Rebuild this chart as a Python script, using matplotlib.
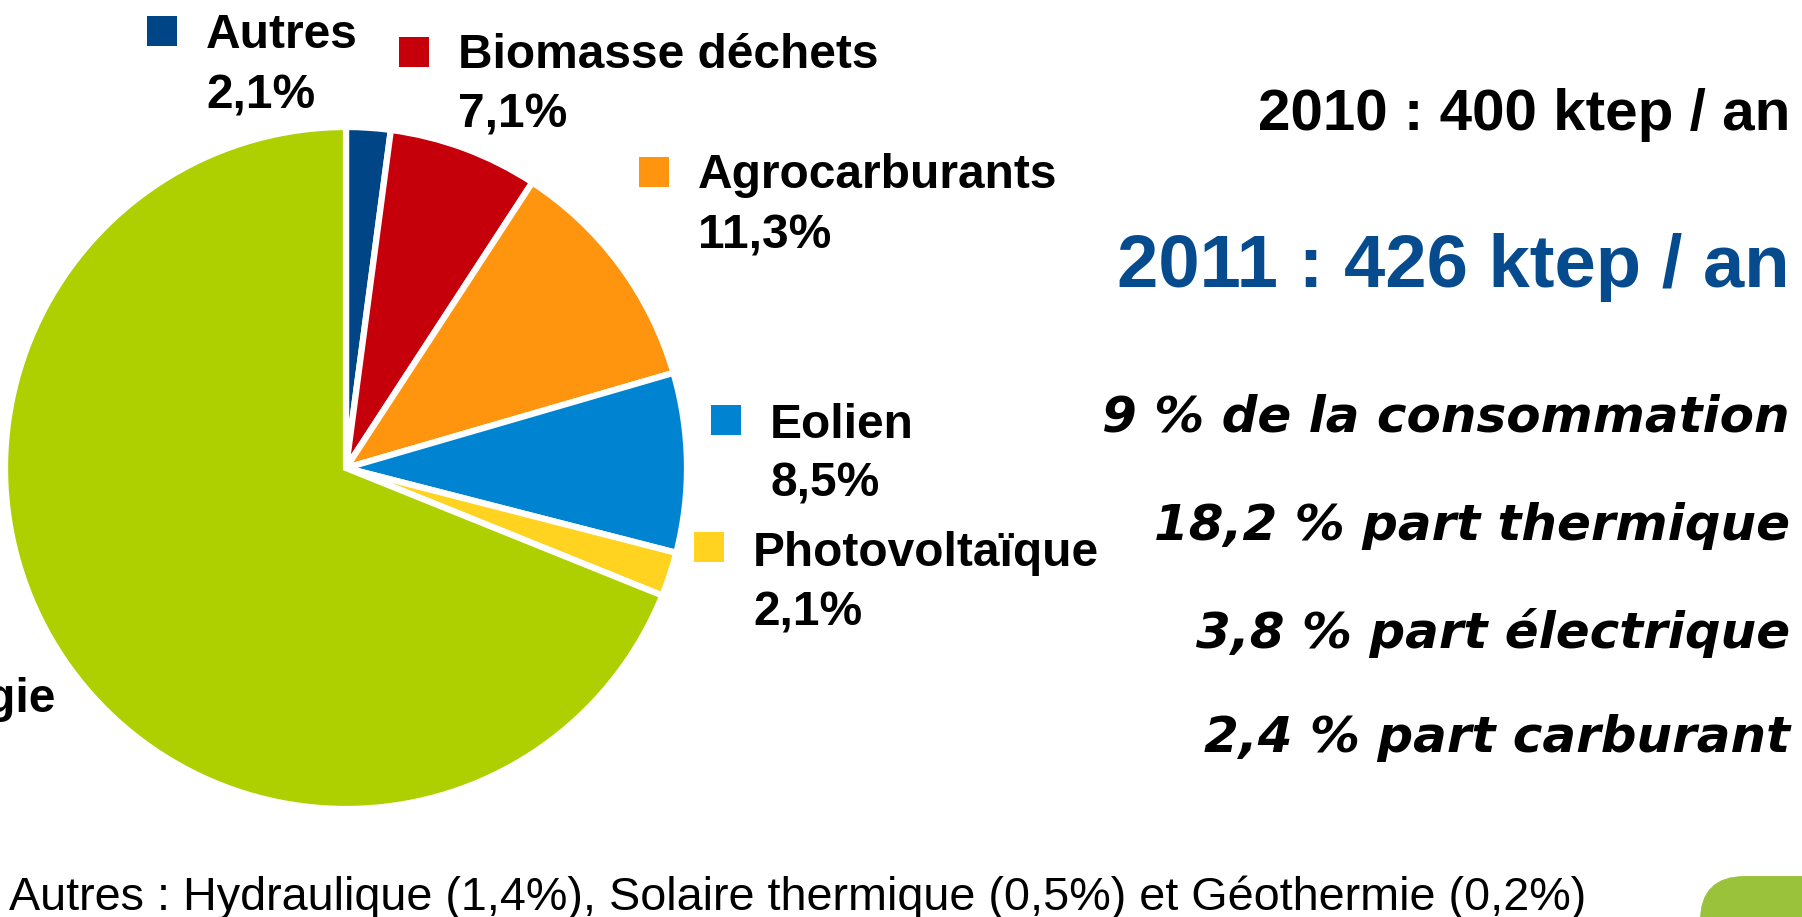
#Imports
import matplotlib
matplotlib.use("Agg")
import matplotlib.pyplot as plt
from matplotlib.patches import Rectangle, FancyBboxPatch

#Data: share of renewable energy production, 2011
categories = ["Autres", "Biomasse déchets", "Agrocarburants", "Eolien", "Photovoltaïque", "Bois énergie"]
shares = [2.1, 7.1, 11.3, 8.5, 2.1, 68.9]
colors = ["#004586", "#c5000b", "#ff950e", "#0084d1", "#ffd320", "#aecf00"]

#Right hand text
headline_2010 = "2010 : 400 ktep / an"
headline_2011 = "2011 : 426 ktep / an"
facts = ["9 % de la consommation", "18,2 % part thermique", "3,8 % part électrique", "2,4 % part carburant"]
footnote = "Autres : Hydraulique (1,4%), Solaire thermique (0,5%) et Géothermie (0,2%)"

#Layout (pixels, measured from the top left corner)
W, H = 1802, 917
pie_center = (346, 468)
pie_radius = 341
label_pos = [(147, 36, 96), (399, 56, 115), (639, 176, 236), (711, 425, 484), (694, 553, 613)] #square x, line 1 y, line 2 y
square_y = [31, 52, 172, 420, 547]
fact_y = [417, 526, 633, 738]

def py(y):
    return H - y #pixel row -> data y

fig = plt.figure(figsize=(W/100, H/100), dpi=100)
ax = fig.add_axes([0, 0, 1, 1])

#The pie, clockwise from 12 o'clock
ax.pie(shares, colors=colors, startangle=90, counterclock=False,
       center=(pie_center[0], py(pie_center[1])), radius=pie_radius,
       wedgeprops=dict(edgecolor="white", linewidth=4.5))
ax.set_xlim(0, W)
ax.set_ylim(0, H)
ax.axis("off")

#Labels with coloured squares
lab_font = dict(family="Liberation Sans", fontweight="bold", fontsize=34.5, color="black", va="center")
for (sx, y1, y2), sy, name, val, col in zip(label_pos, square_y, categories, shares, colors):
    ax.add_patch(Rectangle((sx, py(sy) - 15), 30, 30, color=col, lw=0))
    ax.text(sx + 59, py(y1), name, **lab_font)
    ax.text(sx + 59, py(y2), f"{val:.1f}%".replace(".", ","), **lab_font)

#Bois energie label, cut by the left border as in the original slide
ax.text(55, py(700), categories[-1], ha="right", **lab_font)

#Totals
ax.text(1790, py(115), headline_2010, ha="right", va="center", family="Liberation Sans",
        fontweight="bold", fontsize=42, color="black")
ax.text(1790, py(268), headline_2011, ha="right", va="center", family="Liberation Sans",
        fontweight="bold", fontsize=53.5, color="#054b8e")

#Italic facts
for txt, y in zip(facts, fact_y):
    ax.text(1790, py(y), txt, ha="right", va="center", family="DejaVu Sans",
            style="oblique", fontweight="bold", fontsize=36, color="black")

#Footnote
ax.text(9, py(898), footnote, ha="left", va="center", family="Liberation Sans", fontsize=33.7, color="black")

#Green corner decoration
ax.add_patch(FancyBboxPatch((1700, -100), 300, py(876) + 100, boxstyle="round,pad=0,rounding_size=45",
                            color="#9bc23b", lw=0, clip_on=True))

fig.savefig("out.png", dpi=100)
